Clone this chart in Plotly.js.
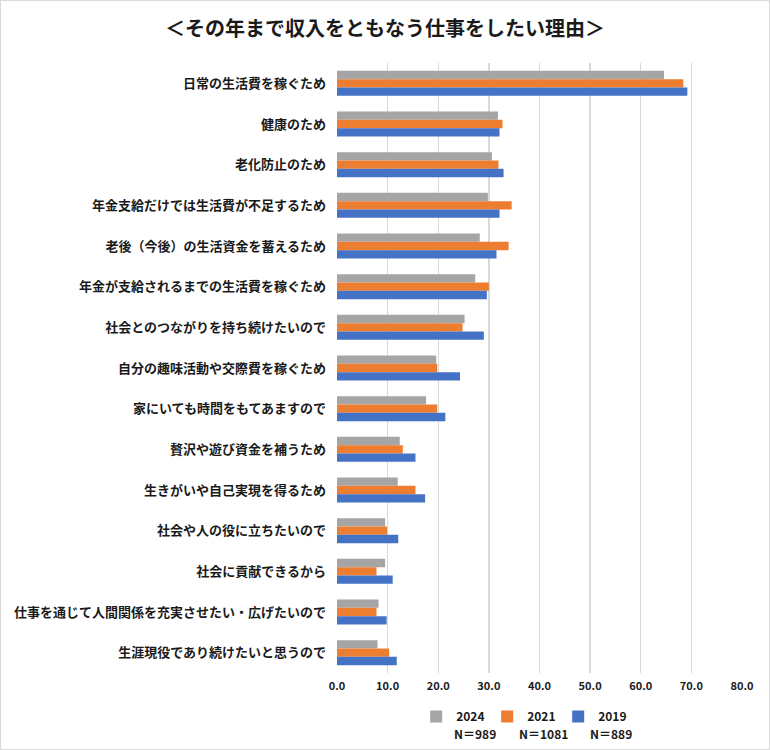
<!DOCTYPE html>
<html>
<head>
<meta charset="utf-8">
<script src="https://cdn.plot.ly/plotly-3.0.1.min.js"></script>
<style>
  html, body { margin: 0; padding: 0; background: #fff; }
  #chart { width: 768px; height: 748px; border: 1px solid #d9d9d9; }
</style>
</head>
<body>
<div id="chart"></div>
<script>
const categories = [
  "日常の生活費を稼ぐため",
  "健康のため",
  "老化防止のため",
  "年金支給だけでは生活費が不足するため",
  "老後（今後）の生活資金を蓄えるため",
  "年金が支給されるまでの生活費を稼ぐため",
  "社会とのつながりを持ち続けたいので",
  "自分の趣味活動や交際費を稼ぐため",
  "家にいても時間をもてあますので",
  "贅沢や遊び資金を補うため",
  "生きがいや自己実現を得るため",
  "社会や人の役に立ちたいので",
  "社会に貢献できるから",
  "仕事を通じて人間関係を充実させたい・広げたいので",
  "生涯現役であり続けたいと思うので"
];
const values2024 = [64.6, 31.8, 30.6, 29.8, 28.2, 27.3, 25.2, 19.6, 17.6, 12.4, 12.0, 9.5, 9.5, 8.2, 8.0];
const values2021 = [68.4, 32.7, 31.9, 34.5, 33.9, 30.0, 24.8, 19.8, 19.8, 13.0, 15.5, 9.9, 7.8, 7.8, 10.3];
const values2019 = [69.2, 32.1, 32.9, 32.1, 31.5, 29.6, 29.0, 24.3, 21.4, 15.5, 17.4, 12.1, 11.0, 9.8, 11.8];
const seriesNames = ["2024", "2021", "2019"];
const sampleSizes = ["N＝989", "N＝1081", "N＝889"];
const xTicks = [0, 10, 20, 30, 40, 50, 60, 70, 80];

const colors = ["#A5A5A5", "#ED7D31", "#4472C4"];
const FONT = "'Noto Sans CJK JP', 'Noto Sans', sans-serif";
const allValues = [values2024, values2021, values2019];

const traces = allValues.map((vals, i) => ({
  type: "bar",
  orientation: "h",
  name: seriesNames[i],
  y: categories,
  x: vals,
  marker: { color: colors[i], line: { width: 0 } },
  hoverinfo: "x+y"
}));

const nX = [452, 517, 588];
const annotations = sampleSizes.map((t, i) => ({
  text: t,
  xref: "paper", yref: "paper",
  x: (nX[i] - 336.7) / 405.6,
  y: (672.4 - 733) / 609.7,
  xanchor: "left", yanchor: "middle",
  showarrow: false,
  font: { family: FONT, size: 12, color: "#1a1a1a", weight: "bold" }
}));

const layout = {
  width: 768, height: 748,
  margin: { l: 336, r: 27, t: 62, b: 76 },
  paper_bgcolor: "#fff",
  plot_bgcolor: "#fff",
  barmode: "group",
  bargap: 0.385,
  bargroupgap: 0,
  title: {
    text: "＜その年まで収入をともなう仕事をしたい理由＞",
    x: 0.5, xanchor: "center",
    y: 1 - 28 / 748, yanchor: "middle",
    font: { family: FONT, size: 20, color: "#1a1a1a", weight: "bold" }
  },
  xaxis: {
    range: [0, 80],
    tickvals: xTicks,
    ticktext: xTicks.map(v => v.toFixed(1)),
    showgrid: true,
    gridcolor: "#d9d9d9",
    gridwidth: 1.3,
    zeroline: false,
    showline: false,
    ticks: "",
    ticklabelstandoff: 5,
    tickfont: { family: FONT, size: 11, color: "#1a1a1a", weight: "bold" },
    fixedrange: true
  },
  yaxis: {
    type: "category",
    autorange: "reversed",
    showgrid: false,
    zeroline: false,
    showline: false,
    ticks: "",
    ticklabelstandoff: 10,
    tickfont: { family: FONT, size: 13, color: "#1a1a1a", weight: "bold" },
    fixedrange: true
  },
  legend: {
    orientation: "h",
    x: (416 - 336.7) / 405.6, xanchor: "left",
    y: (672.4 - 716) / 609.7, yanchor: "middle",
    font: { family: FONT, size: 12, color: "#1a1a1a", weight: "bold" },
    itemwidth: 30,
    entrywidth: 26,
    traceorder: "normal",
    bgcolor: "rgba(0,0,0,0)"
  },
  annotations: annotations,
  showlegend: true
};

Plotly.newPlot("chart", traces, layout, { displayModeBar: false, staticPlot: true });
</script>
</body>
</html>
